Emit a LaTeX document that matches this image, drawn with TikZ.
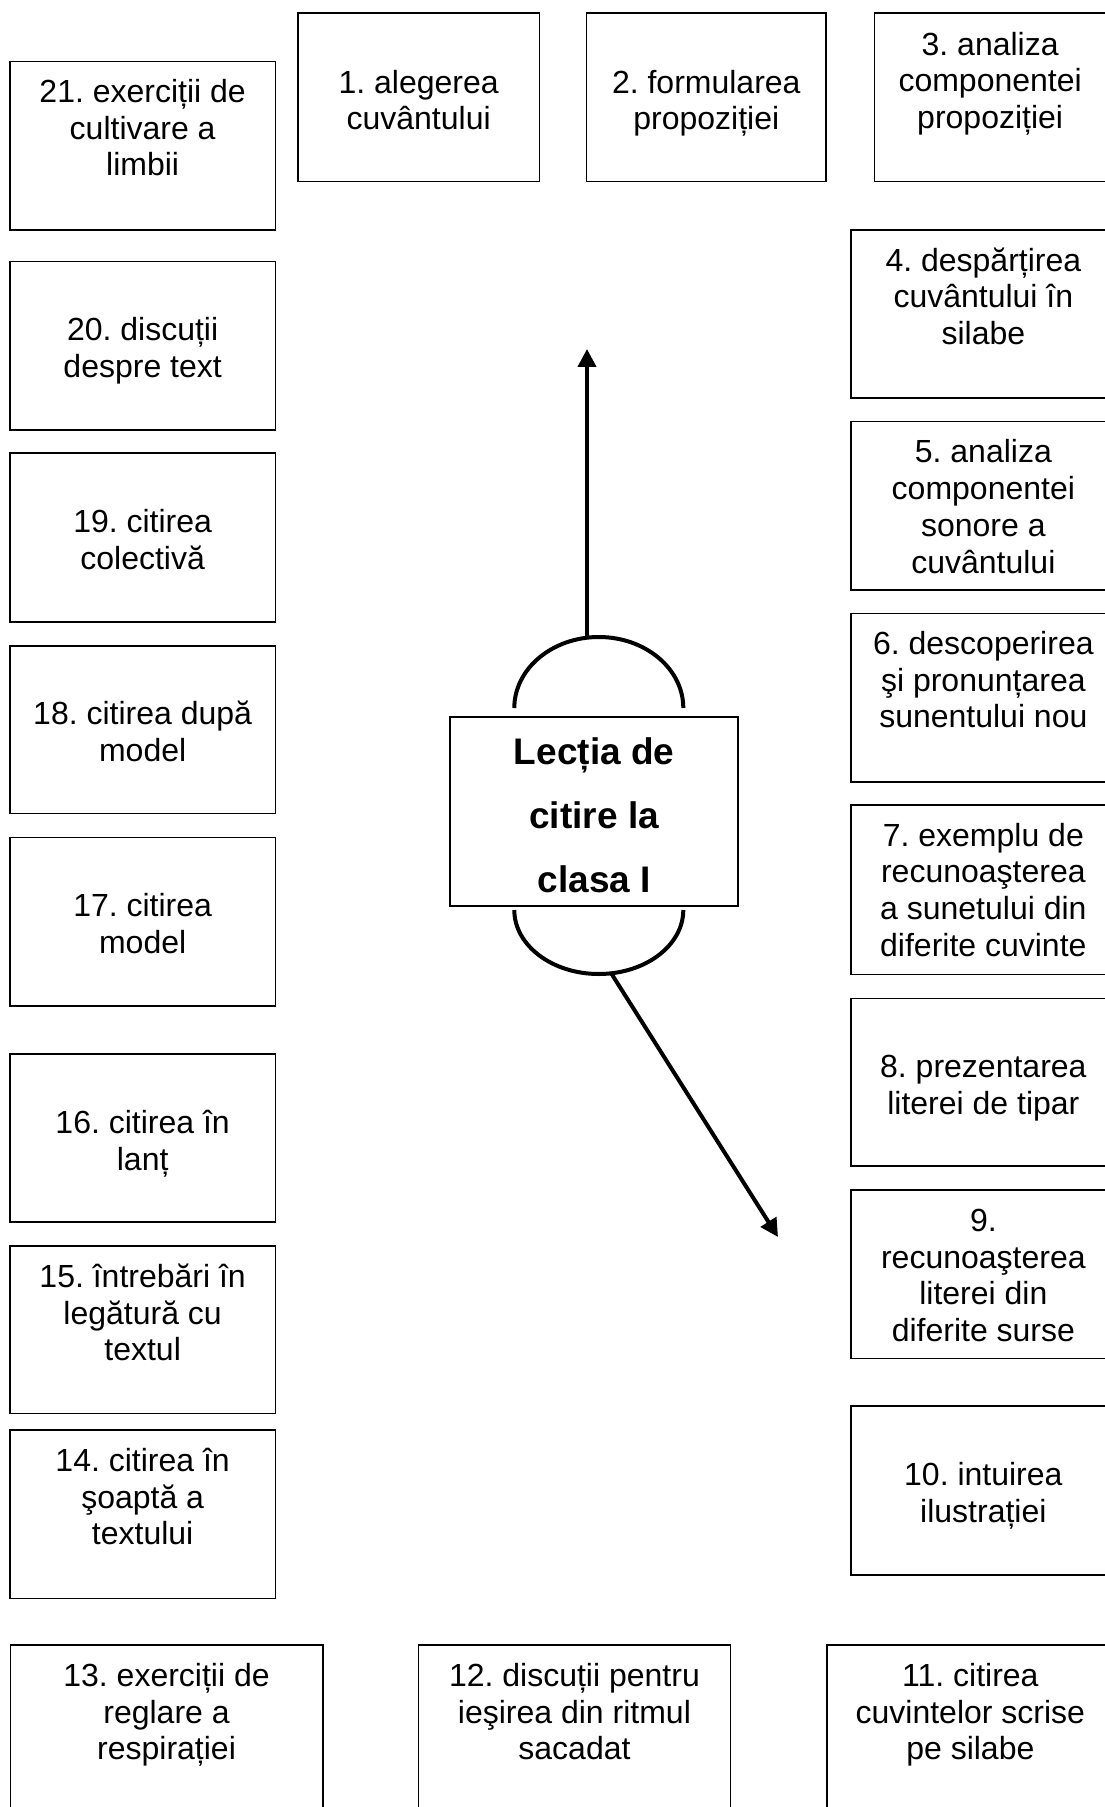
\documentclass[tikz,border=0pt]{standalone}
\usepackage{fontspec}
\setmainfont{Liberation Sans}
\usetikzlibrary{arrows.meta,calc,fit}
\frenchspacing
\newcommand\mkbox[7]{%
  \node[box, fit={(#2,#3) (#4,#5)}] (#1) {};
  \node[txt, anchor=north] (#1t) at ($(#1.north)+(0,#6)$) {\strut #7};
}
\begin{document}
\begin{tikzpicture}[x=0.5pt,y=-0.5pt,
  box/.style={draw, line width=0.8pt, inner sep=0pt},
  txt/.style={font=\fontsize{16}{18.35}\selectfont, align=center, inner sep=0pt},
  cbox/.style={draw, line width=1pt, inner sep=0pt, align=center,
    font=\bfseries\fontsize{18.5}{32}\selectfont,
    minimum width=144.15pt, minimum height=94.55pt},
  conn/.style={line width=2pt, -{Triangle[length=9pt,width=9pt]}},
  lobe/.style={line width=2pt}]
\path[fill=white, use as bounding box] (0,0) rectangle (1104,1807);

\mkbox{b1}{298}{13.3}{539.3}{181.7}{54.5}{1. alegerea\\cuvântului}
\mkbox{b2}{586.6}{13.3}{826}{181.7}{54.5}{2. formularea\\propoziției}
\mkbox{b3}{874.3}{13.3}{1106}{181.7}{16.5}{3. analiza\\componentei\\propoziției}
\mkbox{b4}{850.7}{230}{1116}{398.3}{16}{4. despărțirea\\cuvântului în\\silabe}
\mkbox{b5}{850.7}{421.7}{1116}{590}{16}{5. analiza\\componentei\\sonore a\\cuvântului}
\mkbox{b6}{850.7}{613.3}{1116}{781.7}{16}{6. descoperirea\\şi pronunțarea\\sunentului nou}
\mkbox{b7}{850.7}{805}{1116}{974.3}{16}{7. exemplu de\\recunoaşterea\\a sunetului din\\diferite cuvinte}
\mkbox{b8}{850.7}{998.3}{1116}{1166}{54}{8. prezentarea\\literei de tipar}
\mkbox{b9}{850.7}{1190}{1116}{1358.3}{16}{9.\\recunoaşterea\\literei din\\diferite surse}
\mkbox{b10}{850.7}{1406}{1116}{1575}{54}{10. intuirea\\ilustrației}
\mkbox{b11}{826.7}{1645}{1114}{1813}{16}{11. citirea\\cuvintelor scrise\\pe silabe}
\mkbox{b12}{418.3}{1645}{730.6}{1813}{16}{12. discuții pentru\\ieşirea din ritmul\\sacadat}
\mkbox{b13}{10.4}{1645}{322.7}{1813}{16}{13. exerciții de\\reglare a\\respirației}
\mkbox{b14}{10}{1430}{275.3}{1598.3}{16}{14. citirea în\\şoaptă a\\textului}
\mkbox{b15}{10}{1246}{275.3}{1413.3}{16}{15. întrebări în\\legătură cu\\textul}
\mkbox{b16}{10}{1054}{275.3}{1222}{54}{16. citirea în\\lanț}
\mkbox{b17}{10}{837.3}{275.3}{1006}{54}{17. citirea\\model}
\mkbox{b18}{10}{645.7}{275.3}{813.3}{54}{18. citirea după\\model}
\mkbox{b19}{10}{453.3}{275.3}{621.7}{54}{19. citirea\\colectivă}
\mkbox{b20}{10}{261.7}{275.3}{430}{54}{20. discuții\\despre text}
\mkbox{b21}{10}{61.7}{275.3}{230}{15.5}{21. exerciții de\\cultivare a\\limbii}

\node[cbox] (c) at (594.15,811.25) {\rule{0pt}{17.5pt}Lecția de\\citire la\\clasa I};
\draw[lobe] (514.3,708) arc[start angle=180, end angle=0, x radius=42.25pt, y radius=35.5pt];
\draw[lobe] (514.3,910) arc[start angle=180, end angle=360, x radius=42.25pt, y radius=32pt];

\coordinate (upbase) at (587,637);
\coordinate (uptip) at (587,349);
\coordinate (dnbase) at (611,973);
\coordinate (dntip) at (778,1237);
\draw[conn] (upbase) -- (uptip);
\draw[conn] (dnbase) -- (dntip);
\end{tikzpicture}
\end{document}
